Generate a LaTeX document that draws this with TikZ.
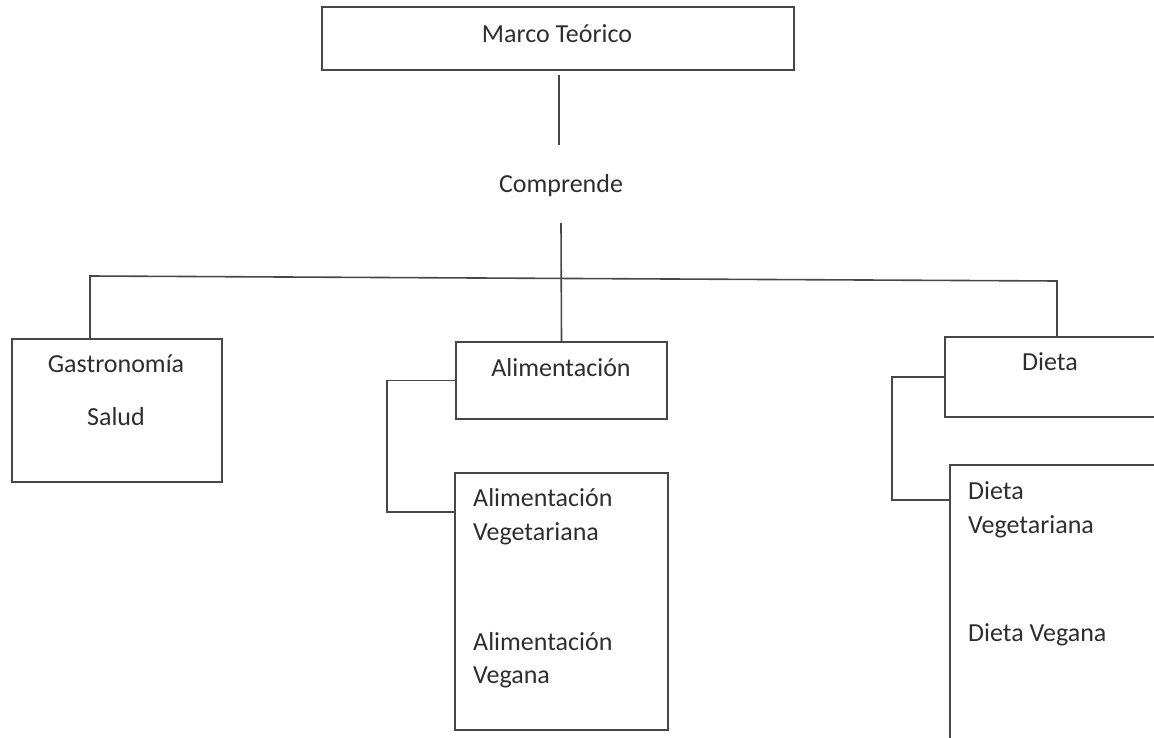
\documentclass[tikz,border=0pt]{standalone}
\usepackage{fontspec}
\setmainfont{Carlito}
\begin{document}
\begin{tikzpicture}[x=1pt,y=-1pt,
  box/.style={draw=black!72, line width=1.6pt, inner sep=0pt, rectangle},
  conn/.style={draw=black!72, line width=1.6pt},
  lbl/.style={inner sep=0pt, anchor=base, text=black!82, font=\fontsize{26}{30}\selectfont},
  lblw/.style={lbl, anchor=base west}]
\useasboundingbox (0,0) rectangle (1154,738);
\clip (0,0) rectangle (1154,738);
% boxes
\node[box, minimum width=472pt, minimum height=63pt] (marco) at (558,38.5) {};
\node[box, minimum width=210pt, minimum height=143pt] (gas) at (117,410.5) {};
\node[box, minimum width=211pt, minimum height=77pt] (alim) at (561.5,380.5) {};
\node[box, minimum width=213pt, minimum height=257pt] (alimveg) at (561.5,601.5) {};
\node[box, minimum width=211pt, minimum height=80pt] (dieta) at (1050.5,377) {};
\node[box, minimum width=213pt, minimum height=280pt] (dietaveg) at (1056.5,605) {};
% texts
\node[lbl] (tmarco) at (557,43) {Marco Teórico};
\node[lbl] (comp) at (561,193) {Comprende};
\node[lbl] (tgas) at (116,372) {Gastronomía};
\node[lbl] (tsal) at (116,425) {Salud};
\node[lbl] (talim) at (561,376) {Alimentación};
\node[lblw] (tav1) at (473,506) {Alimentación};
\node[lblw] (tav2) at (473,540) {Vegetariana};
\node[lblw] (tav3) at (473,650) {Alimentación};
\node[lblw] (tav4) at (473,683) {Vegana};
\node[lbl] (tdieta) at (1050,370) {Dieta};
\node[lblw] (tdv1) at (968,499) {Dieta};
\node[lblw] (tdv2) at (968,533) {Vegetariana};
\node[lblw] (tdv3) at (968,641) {Dieta Vegana};
% connector points
\coordinate (m1) at (559,75);
\coordinate (m2) at (559,145);
\coordinate (c3) at (561,223);
\coordinate (hl) at (90,276);
\coordinate (hr) at (1057,281);
\coordinate (ak) at (387,512);
\coordinate (dk) at (892,500);
% connectors
\draw[conn] (m1) -- (m2);
\draw[conn] (c3) -- (alim.north);
\draw[conn] (hl |- gas.north) -- (hl) -- (hr) -- (hr |- dieta.north);
\draw[conn] (alim.west) -| (ak) -- (ak -| alimveg.west);
\draw[conn] (dieta.west) -| (dk) -- (dk -| dietaveg.west);
\end{tikzpicture}
\end{document}
